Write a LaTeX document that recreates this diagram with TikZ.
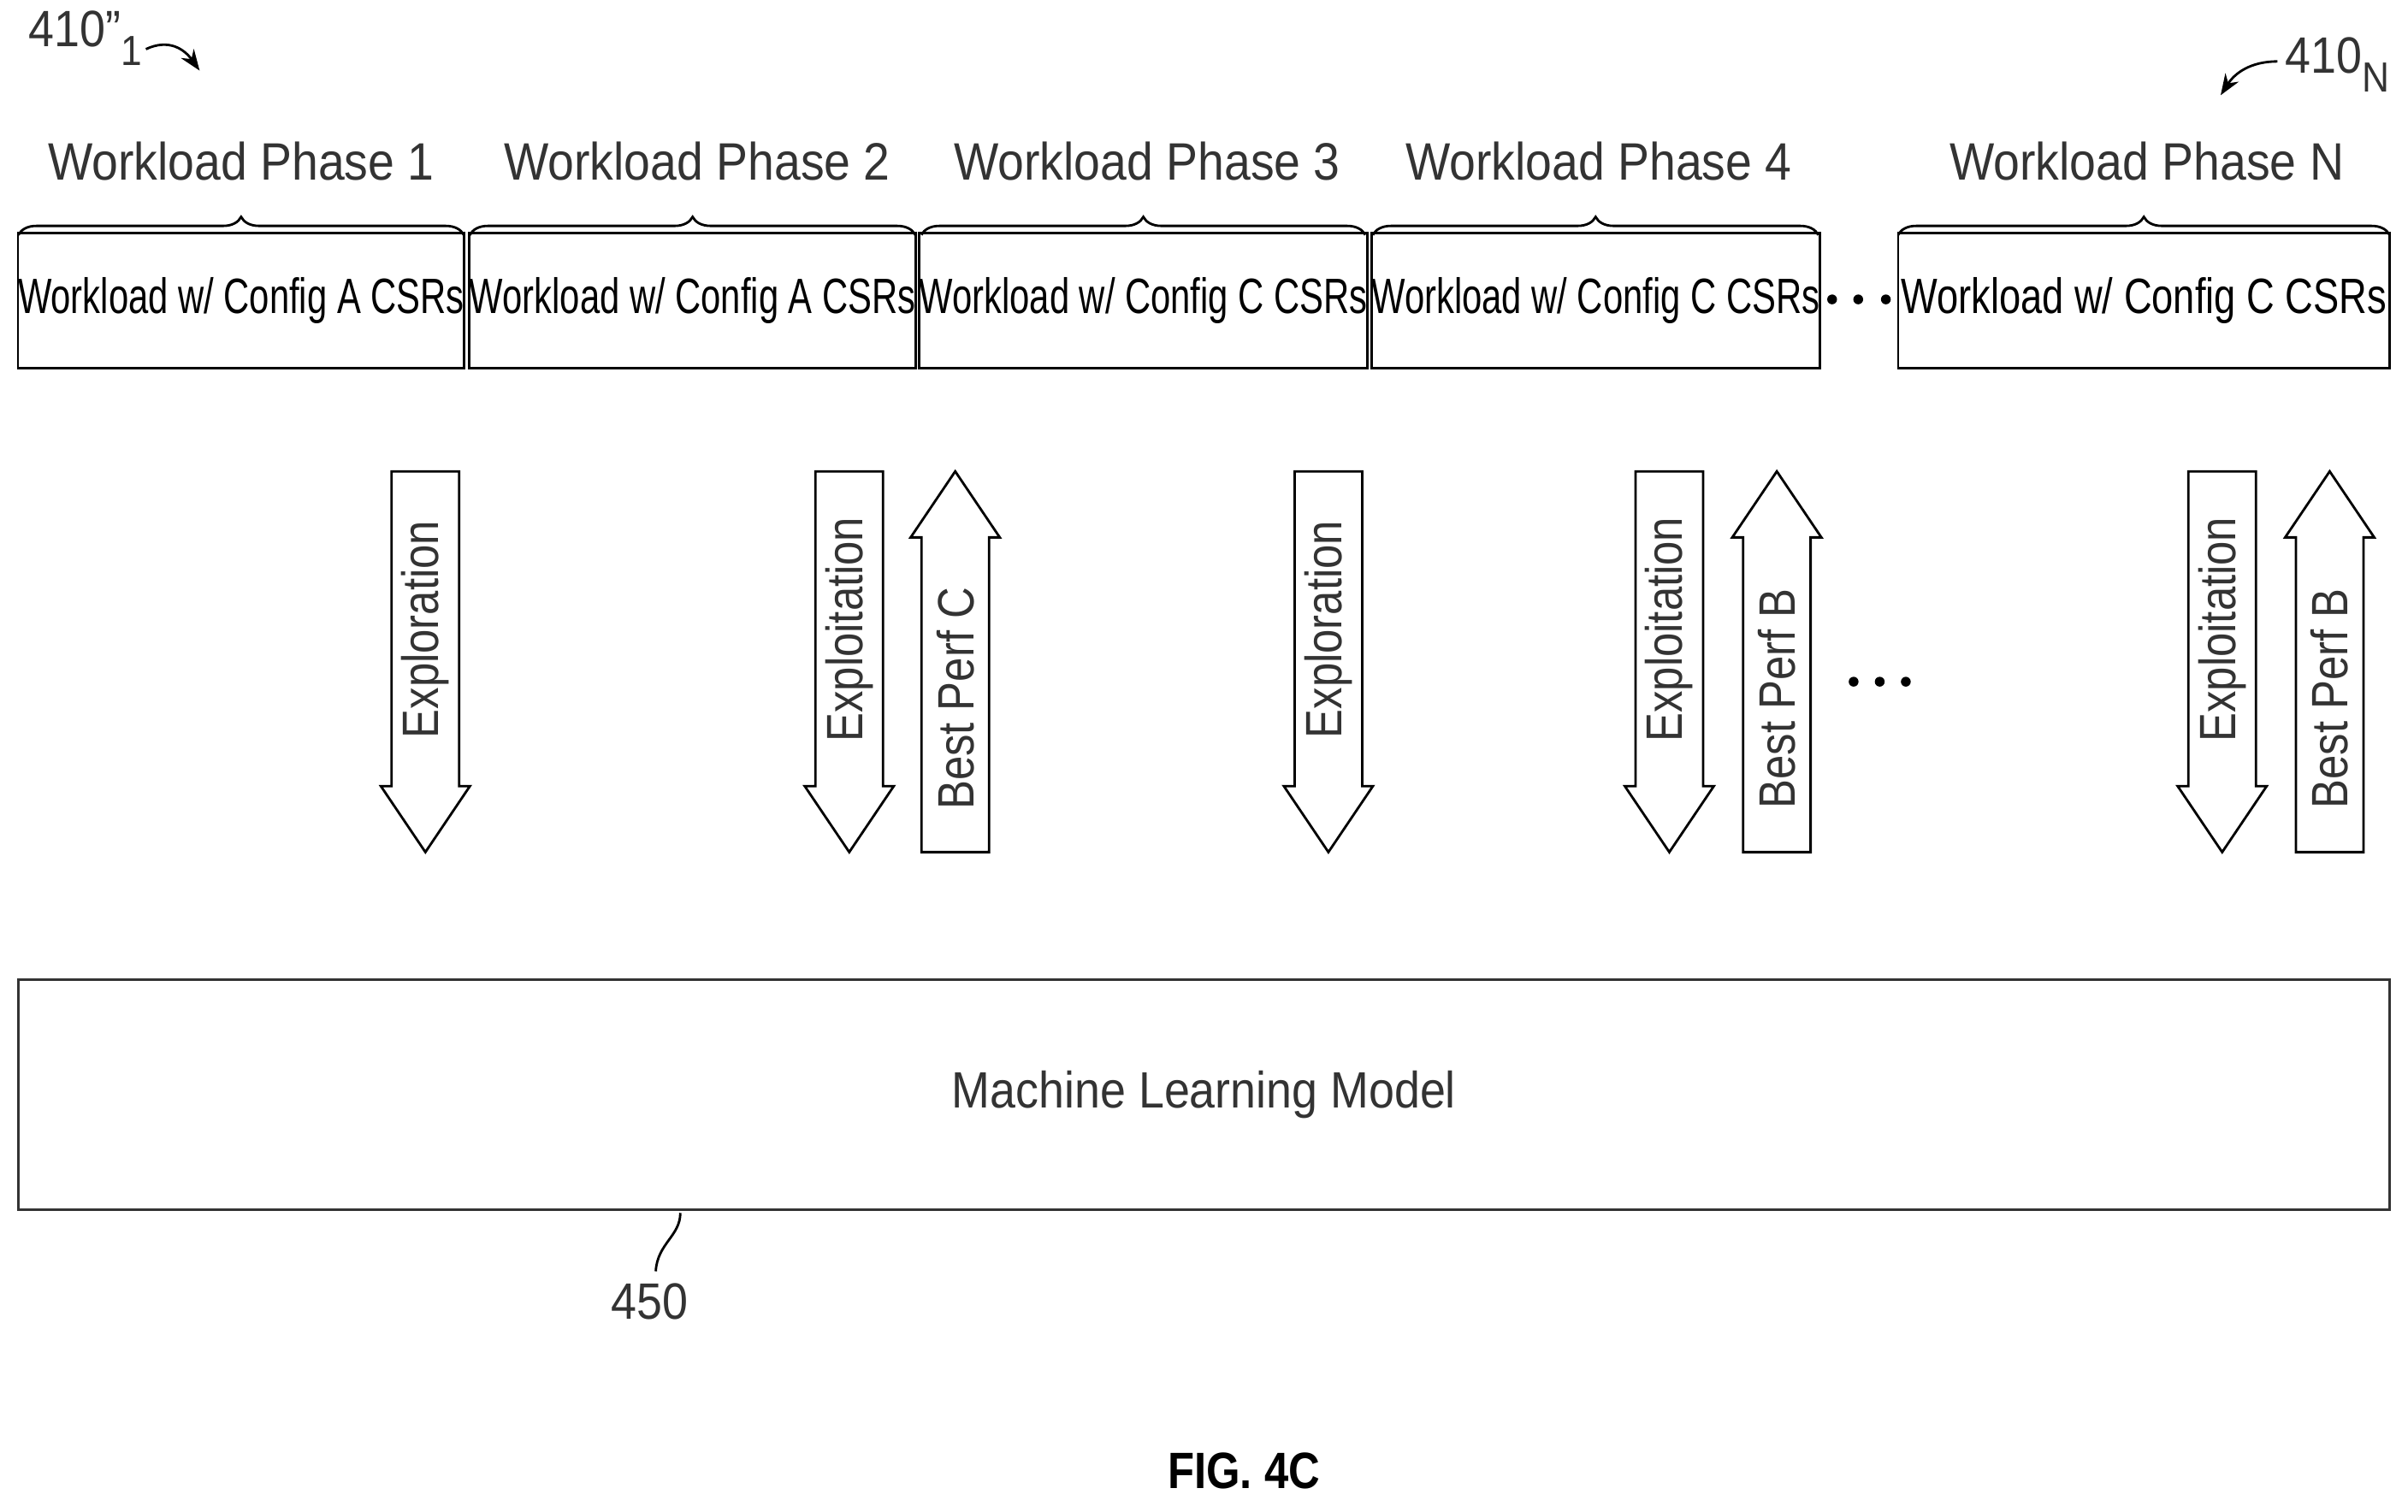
\documentclass[tikz,border=0pt]{standalone}
\usepackage{fontspec}
\setmainfont{Liberation Sans}
\usetikzlibrary{decorations.pathreplacing,arrows.meta}
\newcommand\myDown[2]{%
 \draw[thick] (#1-22,307) -- (#1+22,307) -- (#1+22,512) -- (#1+29,512) -- (#1,555) -- (#1-29,512) -- (#1-22,512) -- cycle;
 \node[rotate=90,lbl] at (#1,410) {\scalebox{0.85}[1]{#2}};}
\newcommand\myUp[2]{%
 \draw[thick] (#1-22,555) -- (#1+22,555) -- (#1+22,350) -- (#1+29,350) -- (#1,307) -- (#1-29,350) -- (#1-22,350) -- cycle;
 \node[rotate=90,lbl] at (#1,455) {\scalebox{0.85}[1]{#2}};}
\begin{document}
\begin{tikzpicture}[x=0.01795cm,y=-0.01795cm,
  box/.style={draw,thick,minimum height=88*0.01795cm,inner sep=0pt,font=\fontsize{16.5}{20}\selectfont},
  lbl/.style={font=\fontsize{17}{20}\selectfont,color=black!80},
  ph/.style={font=\fontsize{17.5}{20}\selectfont,color=black!80},
  br/.style={decorate,decoration={brace,amplitude=6pt},thick}]
\useasboundingbox (0,0) rectangle (1568,984.4);
\foreach \n/\a/\b/\t/\s in {b1/12/302/A/0.72,b2/306/596/A/0.72,b3/600/889/C/0.72,b4/894/1184/C/0.72,b5/1236/1556/C/0.78}{
  \node[box,minimum width={(\b-\a)*0.01795cm}] (\n) at ({(\a+\b)/2},196) {\scalebox{\s}[1]{Workload w/ Config \t\ CSRs}};
  \draw[br] (\a,153) -- (\b,153);
}
\node[ph] (p1) at (157,105) {\scalebox{0.9}[1]{Workload Phase 1}};
\node[ph] (p2) at (454,105) {\scalebox{0.9}[1]{Workload Phase 2}};
\node[ph] (p3) at (747,105) {\scalebox{0.9}[1]{Workload Phase 3}};
\node[ph] (p4) at (1041,105) {\scalebox{0.9}[1]{Workload Phase 4}};
\node[ph] (p5) at (1398,105) {\scalebox{0.9}[1]{Workload Phase N}};
\foreach \x in {1193,1210,1228}{\fill (\x,195) circle (3.2);}
\foreach \x in {1207,1224,1241}{\fill (\x,444) circle (3.2);}
\myDown{277}{Exploration}
\myDown{553}{Exploitation}
\myUp{622}{Best Perf C}
\myDown{865}{Exploration}
\myDown{1087}{Exploitation}
\myUp{1157}{Best Perf B}
\myDown{1447}{Exploitation}
\myUp{1517}{Best Perf B}
\node[draw,thick,minimum width=1544*0.01795cm,minimum height=150*0.01795cm,lbl] (ml) at (784,713) {\scalebox{0.9}[1]{Machine Learning Model}};
\node[lbl] (n450) at (423,848) {\scalebox{0.9}[1]{450}};
\draw[thick] (443,790) .. controls (443,805) and (428,810) .. (427,828);
\node[lbl,anchor=west] (n410a) at (12,25) {\scalebox{0.9}[1]{410''\raisebox{-0.7ex}{\fontsize{14}{16}\selectfont 1}}};
\draw[thick,-{Stealth[length=7pt]}] (95,32) .. controls (110,25) and (120,32) .. (130,46);
\node[lbl,anchor=west] (n410n) at (1481,42) {\scalebox{0.9}[1]{410\raisebox{-0.7ex}{\fontsize{14}{16}\selectfont N}}};
\draw[thick,-{Stealth[length=7pt]}] (1483,40) .. controls (1465,40) and (1455,48) .. (1446,62);
\node[font=\bfseries\fontsize{17}{20}\selectfont] (fig) at (810,958) {\scalebox{0.85}[1]{FIG. 4C}};
\end{tikzpicture}
\end{document}
